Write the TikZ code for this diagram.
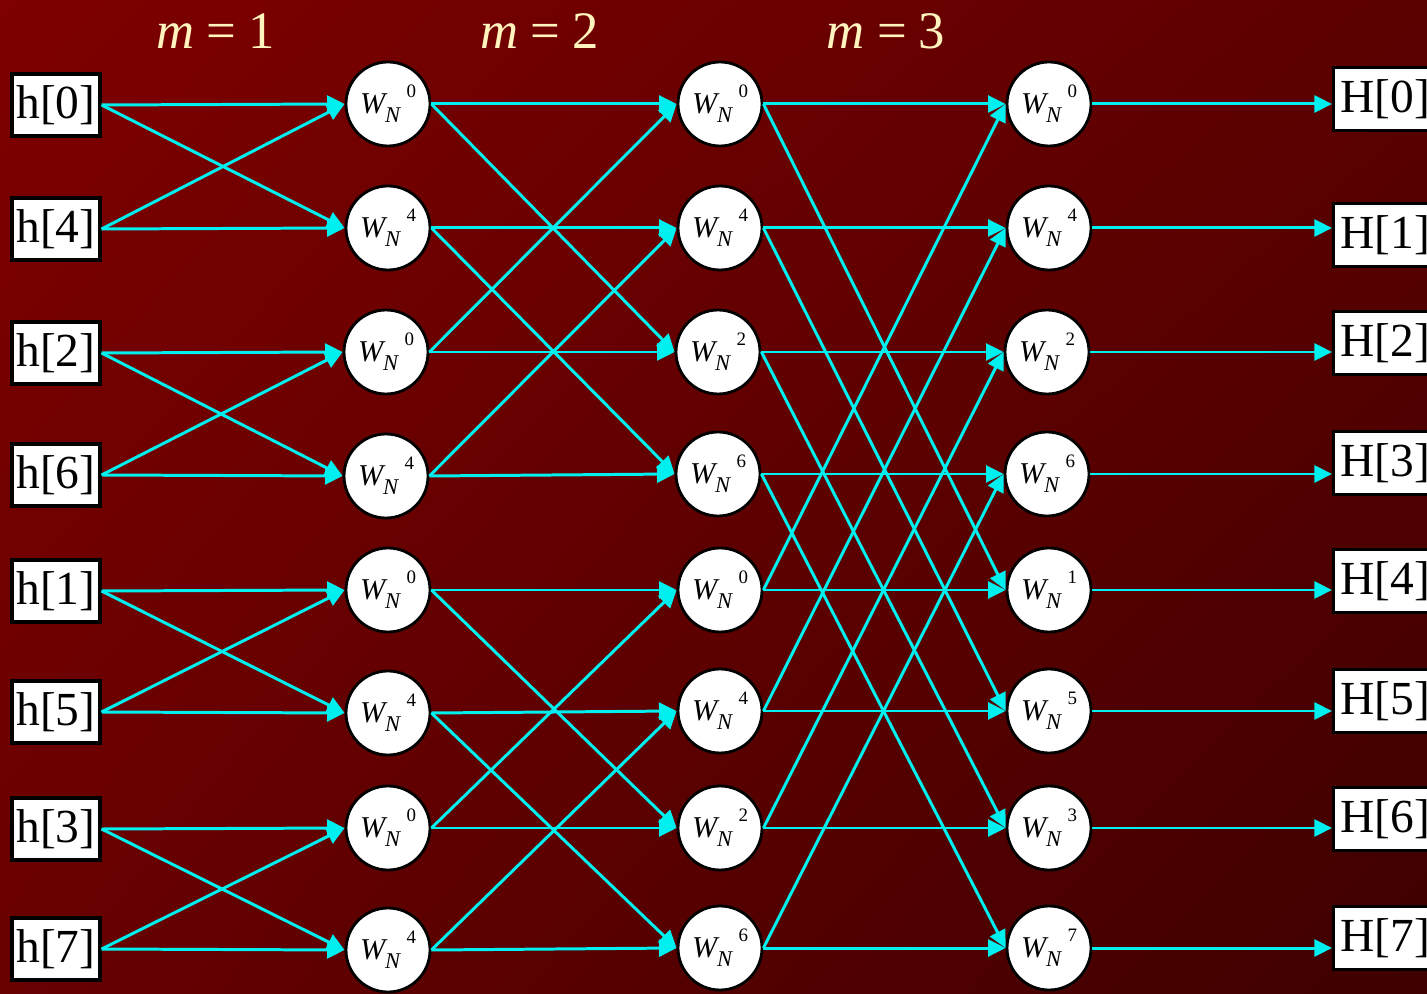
\documentclass[tikz,border=0pt]{standalone}
\usepackage{fontspec}
\setmainfont{Liberation Serif}
\usepackage{tikz}
\usetikzlibrary{arrows.meta,positioning,calc,shadings}
\definecolor{wirec}{HTML}{00F0F0}
\definecolor{headc}{HTML}{FFF3BE}
\definecolor{bgtl}{HTML}{7E0000}
\definecolor{bgtr}{HTML}{5C0000}
\definecolor{bgbl}{HTML}{680000}
\definecolor{bgbr}{HTML}{3E0000}
\tikzset{
  >={Triangle[length=5pt,width=4.8pt]},
  inbox/.style={draw=black,line width=0.9pt,fill=white,minimum width=8.8mm,minimum height=6.2mm,inner sep=0pt,font=\fontsize{13.5}{14}\selectfont},
  outbox/.style={inbox,anchor=west,minimum width=0pt,inner xsep=0.7mm,minimum height=6.3mm},
  tw/.style={circle,draw=black,line width=0.8pt,fill=white,minimum size=8.4mm,inner sep=0pt},
  wire/.style={->,draw=wirec,line width=0.85pt},
  head/.style={font=\fontsize{15}{16}\selectfont,text=headc},
}
\newcommand{\twf}[1]{{\fontsize{8.6}{9}\selectfont\itshape W}\raisebox{-2.6pt}{\fontsize{6.4}{7}\selectfont\itshape N}\hspace{1.8pt}\raisebox{4.5pt}{\fontsize{5.4}{6}\selectfont #1}}
\newcommand{\tnode}[3]{\node[tw] (#1) at (#2) {\twf{#3}};}
\newcommand{\mhead}[3]{\node[head] (#1) at (#2) {\textit{m}\hspace{3.4pt}=\hspace{3.4pt}#3};}

\begin{document}
\begin{tikzpicture}
  \clip (0,0) rectangle (14.27,9.93);
  \shade[upper left=bgtl,upper right=bgtr,lower left=bgbl,lower right=bgbr] (0,0) rectangle (14.27,9.93);
  % stage titles
  \mhead{m1}{2.16,9.62}{1}
  \mhead{m2}{5.40,9.62}{2}
  \mhead{m3}{8.86,9.62}{3}
  % inputs, bit reversed
  \node[inbox] (i0) at (0.56,8.88) {h[0]};
  \node[inbox] (i1) at (0.56,7.64) {h[4]};
  \node[inbox] (i2) at (0.56,6.40) {h[2]};
  \node[inbox] (i3) at (0.56,5.18) {h[6]};
  \node[inbox] (i4) at (0.56,4.02) {h[1]};
  \node[inbox] (i5) at (0.56,2.81) {h[5]};
  \node[inbox] (i6) at (0.56,1.64) {h[3]};
  \node[inbox] (i7) at (0.56,0.44) {h[7]};
  % m = 1
  \tnode{a0}{3.88,8.89}{0}
  \tnode{a1}{3.88,7.65}{4}
  \tnode{a2}{3.86,6.41}{0}
  \tnode{a3}{3.86,5.17}{4}
  \tnode{a4}{3.88,4.03}{0}
  \tnode{a5}{3.88,2.80}{4}
  \tnode{a6}{3.88,1.65}{0}
  \tnode{a7}{3.88,0.43}{4}
  % m = 2
  \tnode{b0}{7.20,8.89}{0}
  \tnode{b1}{7.20,7.65}{4}
  \tnode{b2}{7.18,6.41}{2}
  \tnode{b3}{7.18,5.19}{6}
  \tnode{b4}{7.20,4.03}{0}
  \tnode{b5}{7.20,2.82}{4}
  \tnode{b6}{7.20,1.65}{2}
  \tnode{b7}{7.20,0.45}{6}
  % m = 3
  \tnode{c0}{10.49,8.89}{0}
  \tnode{c1}{10.49,7.65}{4}
  \tnode{c2}{10.47,6.41}{2}
  \tnode{c3}{10.47,5.19}{6}
  \tnode{c4}{10.49,4.03}{1}
  \tnode{c5}{10.49,2.82}{5}
  \tnode{c6}{10.49,1.65}{3}
  \tnode{c7}{10.49,0.45}{7}
  % outputs
  \node[outbox] (o0) at (13.32,8.94) {H[0]};
  \node[outbox] (o1) at (13.32,7.58) {H[1]};
  \node[outbox] (o2) at (13.32,6.50) {H[2]};
  \node[outbox] (o3) at (13.32,5.30) {H[3]};
  \node[outbox] (o4) at (13.32,4.12) {H[4]};
  \node[outbox] (o5) at (13.32,2.92) {H[5]};
  \node[outbox] (o6) at (13.32,1.74) {H[6]};
  \node[outbox] (o7) at (13.32,0.55) {H[7]};
  % butterflies m = 1
  \draw[wire] (i0.east) -- (a0.west); \draw[wire] (i0.east) -- (a1.west);
  \draw[wire] (i1.east) -- (a1.west); \draw[wire] (i1.east) -- (a0.west);
  \draw[wire] (i2.east) -- (a2.west); \draw[wire] (i2.east) -- (a3.west);
  \draw[wire] (i3.east) -- (a3.west); \draw[wire] (i3.east) -- (a2.west);
  \draw[wire] (i4.east) -- (a4.west); \draw[wire] (i4.east) -- (a5.west);
  \draw[wire] (i5.east) -- (a5.west); \draw[wire] (i5.east) -- (a4.west);
  \draw[wire] (i6.east) -- (a6.west); \draw[wire] (i6.east) -- (a7.west);
  \draw[wire] (i7.east) -- (a7.west); \draw[wire] (i7.east) -- (a6.west);
  % butterflies m = 2
  \draw[wire] (a0.east) -- (b0.west); \draw[wire] (a0.east) -- (b2.west);
  \draw[wire] (a1.east) -- (b1.west); \draw[wire] (a1.east) -- (b3.west);
  \draw[wire] (a2.east) -- (b2.west); \draw[wire] (a2.east) -- (b0.west);
  \draw[wire] (a3.east) -- (b3.west); \draw[wire] (a3.east) -- (b1.west);
  \draw[wire] (a4.east) -- (b4.west); \draw[wire] (a4.east) -- (b6.west);
  \draw[wire] (a5.east) -- (b5.west); \draw[wire] (a5.east) -- (b7.west);
  \draw[wire] (a6.east) -- (b6.west); \draw[wire] (a6.east) -- (b4.west);
  \draw[wire] (a7.east) -- (b7.west); \draw[wire] (a7.east) -- (b5.west);
  % butterflies m = 3
  \draw[wire] (b0.east) -- (c0.west); \draw[wire] (b0.east) -- (c4.west);
  \draw[wire] (b1.east) -- (c1.west); \draw[wire] (b1.east) -- (c5.west);
  \draw[wire] (b2.east) -- (c2.west); \draw[wire] (b2.east) -- (c6.west);
  \draw[wire] (b3.east) -- (c3.west); \draw[wire] (b3.east) -- (c7.west);
  \draw[wire] (b4.east) -- (c4.west); \draw[wire] (b4.east) -- (c0.west);
  \draw[wire] (b5.east) -- (c5.west); \draw[wire] (b5.east) -- (c1.west);
  \draw[wire] (b6.east) -- (c6.west); \draw[wire] (b6.east) -- (c2.west);
  \draw[wire] (b7.east) -- (c7.west); \draw[wire] (b7.east) -- (c3.west);
  % to outputs
  \draw[wire] (c0.east) -- (c0 -| o0.west);
  \draw[wire] (c1.east) -- (c1 -| o1.west);
  \draw[wire] (c2.east) -- (c2 -| o2.west);
  \draw[wire] (c3.east) -- (c3 -| o3.west);
  \draw[wire] (c4.east) -- (c4 -| o4.west);
  \draw[wire] (c5.east) -- (c5 -| o5.west);
  \draw[wire] (c6.east) -- (c6 -| o6.west);
  \draw[wire] (c7.east) -- (c7 -| o7.west);
\end{tikzpicture}
\end{document}
